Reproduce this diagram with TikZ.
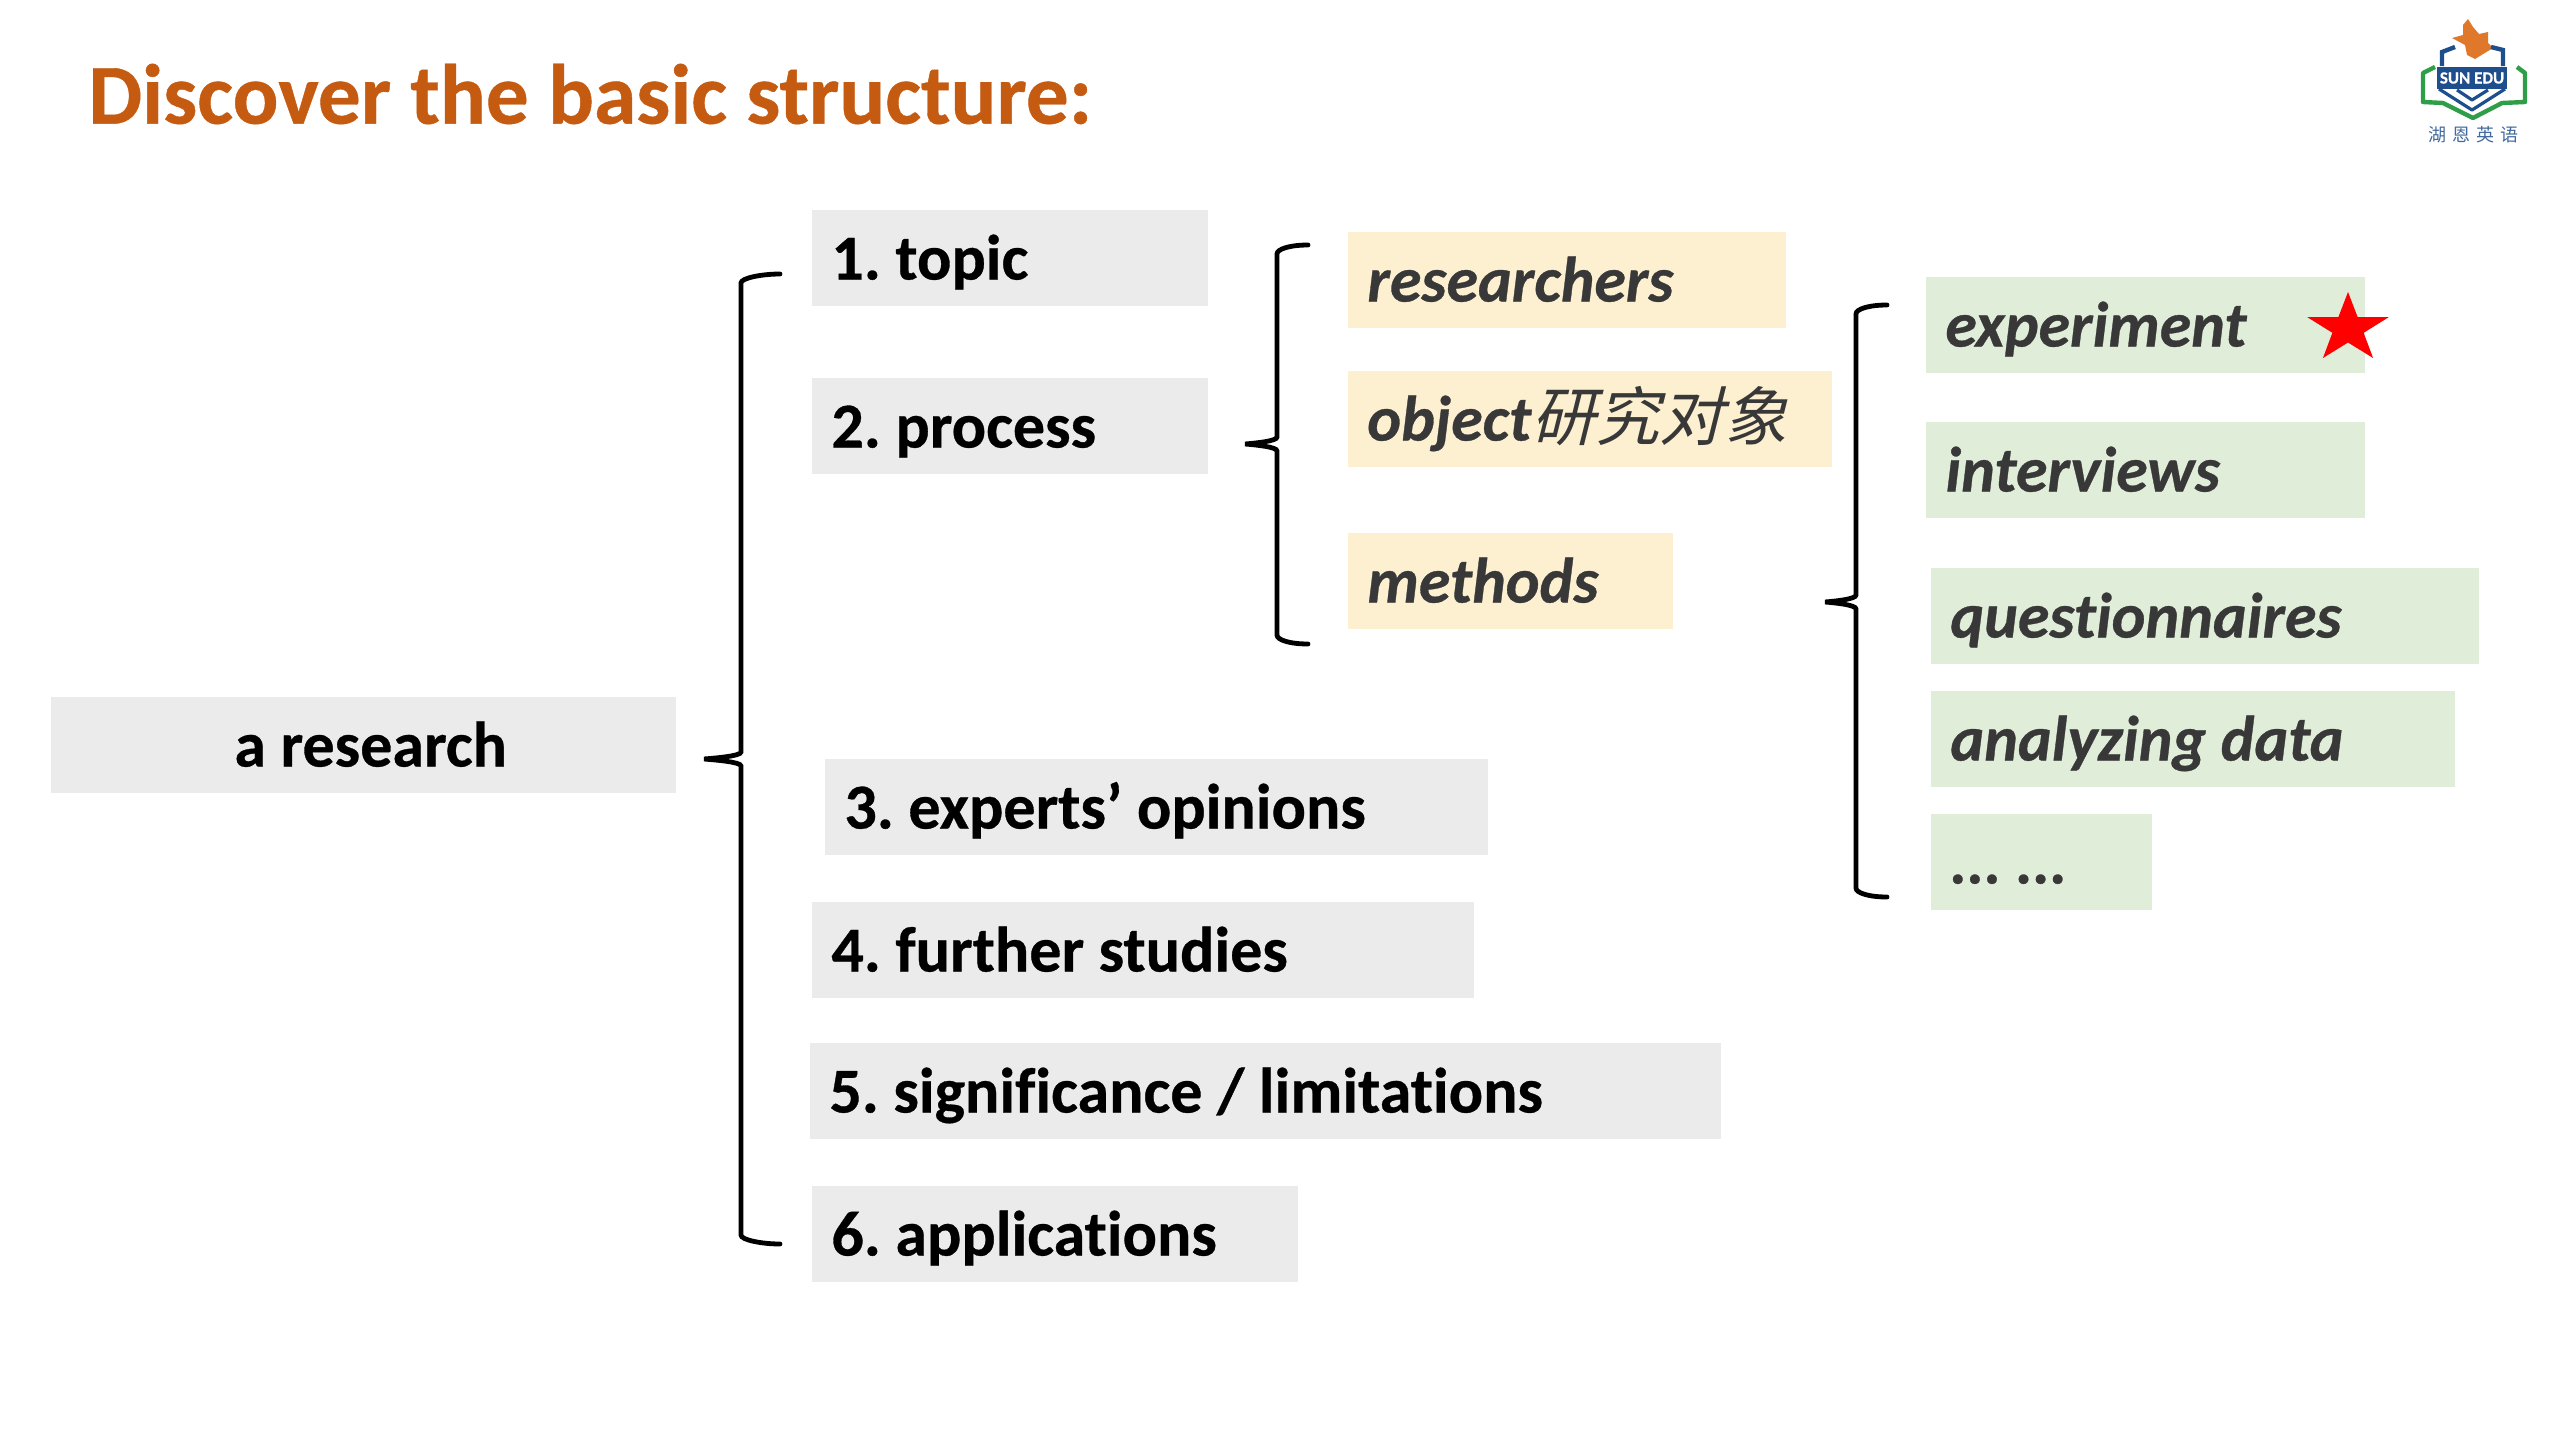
\documentclass[tikz,border=0pt]{standalone}
\usepackage{fontspec}
\setmainfont[Ligatures=NoCommon, BoldFeatures={FakeBold=0.5}, BoldItalicFeatures={FakeBold=0.5}]{Carlito}
\newfontfamily\cjk[FakeSlant=0.25]{Noto Sans CJK SC}
\newfontfamily\cjklogo{Noto Sans CJK SC}
\usetikzlibrary{shapes, shapes.geometric, positioning, calc}
\frenchspacing

\definecolor{titleorange}{HTML}{C55A11}
\definecolor{boxgray}{HTML}{EBEBEB}
\definecolor{boxyellow}{HTML}{FDF0D0}
\definecolor{boxgreen}{HTML}{E0EDD9}
\definecolor{logonavy}{HTML}{1F4E8C}
\definecolor{logogreen}{HTML}{2E9E48}
\definecolor{logoleaf}{HTML}{E0782C}

\tikzset{
  plainbox/.style={anchor=west, minimum height=48pt, inner xsep=9.5pt, inner ysep=0pt, align=flush left,
    text height=25.5pt, text depth=4pt, font=\fontsize{32}{38}\selectfont\bfseries},
  wide/.style={text width={#1pt-19pt}},
  graybox/.style={plainbox, fill=boxgray, text=black},
  yellowbox/.style={plainbox, fill=boxyellow, text=black!78, font=\fontsize{32}{38}\selectfont\bfseries\itshape},
  greenbox/.style={plainbox, fill=boxgreen, text=black!78, font=\fontsize{32}{38}\selectfont\bfseries\itshape},
  bracketline/.style={draw=black, line width=2.4pt, line cap=round}
}

% top end, tip, bottom end, stem offset from the tip
\newcommand{\drawbracket}[4]{
  \draw[bracketline] (#1) .. controls +(-18,0) and +(0,-5) .. ($(#2 |- #1)+(#4,9)$)
    -- ($(#2)+(#4,-7)$) .. controls +(0,4) and +(12,-1) .. (#2)
    .. controls +(12,1) and +(0,-4) .. ($(#2)+(#4,7)$)
    -- ($(#2 |- #3)+(#4,-9)$) .. controls +(0,5) and +(-18,0) .. (#3);
}

\begin{document}
\begin{tikzpicture}[x=.5pt, y=-.5pt]
  \useasboundingbox (0,0) rectangle (2560,1440);

  \node[anchor=west, inner sep=0pt, text=titleorange, font=\fontsize{42.7}{50}\selectfont\bfseries] (title) at (88,94) {Discover the basic structure:};

  \node[graybox, wide=312.5] (research) at (51,745) {\hspace*{82pt}a research};

  \node[graybox, wide=198] (topic) at (812,258) {1. topic};
  \node[graybox, wide=198] (process) at (812,426) {2. process};
  \node[graybox, wide=331.5] (opinions) at (825,807) {3. experts’ opinions};
  \node[graybox, wide=331] (studies) at (812,950) {4. further studies};
  \node[graybox, wide=455.5] (significance) at (810,1091) {5. significance / limitations};
  \node[graybox, wide=243] (applications) at (812,1234) {6. applications};

  \node[yellowbox, wide=219] (researchers) at (1348,280) {researchers};
  \node[yellowbox, wide=242] (object) at (1348,419) {object{\cjk\mdseries 研究对象}};
  \node[yellowbox, wide=162.5] (methods) at (1348,581) {methods};

  \node[greenbox, wide=219.5] (experiment) at (1926,325) {experiment};
  \node[greenbox, wide=219.5] (interviews) at (1926,470) {interviews};
  \node[greenbox, wide=274] (questionnaires) at (1931,616) {questionnaires};
  \node[greenbox, wide=262] (analyzing) at (1931,739) {analyzing data};
  \node[greenbox, wide=110.5] (dots) at (1931,862) {... ...};

  \node[star, star points=5, star point ratio=2.6, fill=red, minimum size=36.5pt, inner sep=0pt, xscale=1.17, transform shape] (mark) at (2348,328.5) {};

  % braces
  \coordinate (researchTop) at (780,274);
  \coordinate (researchTip) at (704,759);
  \coordinate (researchBot) at (780,1244);
  \drawbracket{researchTop}{researchTip}{researchBot}{37}

  \coordinate (processTop) at (1308,245);
  \coordinate (processTip) at (1245,444);
  \coordinate (processBot) at (1308,644);
  \drawbracket{processTop}{processTip}{processBot}{32}

  \coordinate (methodsTop) at (1887,305);
  \coordinate (methodsTip) at (1825,602);
  \coordinate (methodsBot) at (1887,897);
  \drawbracket{methodsTop}{methodsTip}{methodsBot}{31}

  % logo
  \fill[logoleaf] (2468,19) -- (2473,27) -- (2479,34) -- (2488,32) -- (2488,43) -- (2493,48)
    -- (2475,59) -- (2467,55) -- (2465,45) -- (2452,38) -- (2463,35) -- (2463,25) -- cycle;
  \draw[logogreen, line width=2.2pt, line join=round] (2435,67) -- (2423,73) -- (2423,102) -- (2443,103)
    -- (2473,118) -- (2502,103) -- (2525,102) -- (2525,73) -- (2517,67);
  \draw[logonavy, line width=2.2pt] (2442,66) -- (2442,52) -- (2455,47);
  \draw[logonavy, line width=2.2pt] (2503,66) -- (2503,50) -- (2491,47);
  \fill[logonavy] (2437,67) rectangle (2507,89);
  \draw[logonavy, line width=1.6pt, line join=round] (2439,89) -- (2472,110) -- (2505,89);
  \draw[logonavy, line width=1.6pt, line join=round] (2457,90) -- (2472,100) -- (2488,90);
  \node[inner sep=0pt, text=white, font=\fontsize{8.5}{10}\selectfont\bfseries] (logoname) at (2472,78) {SUN EDU};
  \node[inner sep=0pt, text=logonavy!85, font=\fontsize{9}{10}\cjklogo] (logotext) at (2473,135) {湖\hspace{3pt}恩\hspace{3pt}英\hspace{3pt}语};
\end{tikzpicture}
\end{document}
